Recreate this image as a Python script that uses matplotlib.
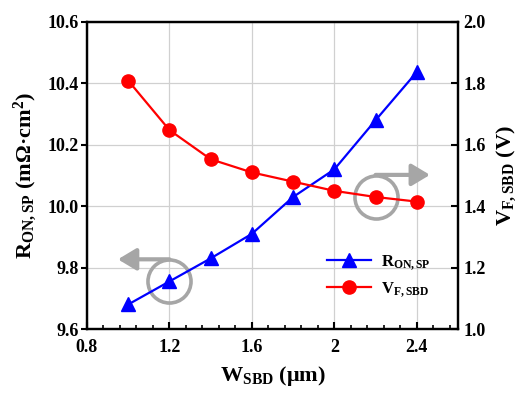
import matplotlib
matplotlib.use('Agg')
import matplotlib.pyplot as plt

plt.rcParams['font.family'] = 'Liberation Serif'
plt.rcParams['font.weight'] = 'bold'
plt.rcParams['mathtext.fontset'] = 'custom'
plt.rcParams['mathtext.rm'] = 'Liberation Serif:bold'
plt.rcParams['mathtext.bf'] = 'Liberation Serif:bold'
plt.rcParams['mathtext.it'] = 'Liberation Serif:bold'

# data
w_sbd = [1.0, 1.2, 1.4, 1.6, 1.8, 2.0, 2.2, 2.4]
r_on_sp = [9.68, 9.755, 9.83, 9.91, 10.03, 10.12, 10.28, 10.437]
v_f_sbd = [1.809, 1.648, 1.553, 1.51, 1.48, 1.45, 1.43, 1.415]

x_ticks = [0.8, 1.2, 1.6, 2.0, 2.4]
x_ticklabels = ['0.8', '1.2', '1.6', '2', '2.4']
left_ticks = [9.6, 9.8, 10.0, 10.2, 10.4, 10.6]
right_ticks = [1.0, 1.2, 1.4, 1.6, 1.8, 2.0]

fig = plt.figure(figsize=(5.19, 3.97), dpi=100)
ax = fig.add_axes([87/519, 1-329/397, (458-87)/519, (329-22)/397])
ax2 = ax.twinx()

ax.set_xlim(0.8, 2.6)
ax.set_ylim(9.6, 10.6)
ax2.set_ylim(1.0, 2.0)

ax.grid(True, color='#d0d0d0', lw=0.9)
ax.set_axisbelow(True)

l1, = ax.plot(w_sbd, r_on_sp, color='#0000ff', marker='^', ms=9.5, lw=1.6,
              label=r'$\mathbf{R_{ON,SP}}$')
l2, = ax2.plot(w_sbd, v_f_sbd, color='#ff0000', marker='o', ms=9.5, lw=1.6,
               label=r'$\mathbf{V_{F,SBD}}$')

gray = '#a6a6a6'
# circle + arrow pointing at left axis
ax.plot(w_sbd[1], r_on_sp[1], marker='o', ms=31, mfc='none', mec=gray, mew=2.6, zorder=1)
ax.annotate('', xy=(0.95, r_on_sp[1] + 0.072), xytext=(w_sbd[1], r_on_sp[1] + 0.072),
            arrowprops=dict(arrowstyle='-|>,head_length=0.55,head_width=0.33', color=gray,
                            lw=3, shrinkA=0, shrinkB=0, mutation_scale=20), zorder=1)
# circle + arrow pointing at right axis
ax2.plot(w_sbd[6], v_f_sbd[6], marker='o', ms=31, mfc='none', mec=gray, mew=2.6, zorder=1)
ax2.annotate('', xy=(2.464, v_f_sbd[6] + 0.072), xytext=(w_sbd[6], v_f_sbd[6] + 0.072),
             arrowprops=dict(arrowstyle='-|>,head_length=0.55,head_width=0.33', color=gray,
                             lw=3, shrinkA=0, shrinkB=0, mutation_scale=20), zorder=1)

ax.set_xticks(x_ticks)
ax.set_xticklabels(x_ticklabels)
ax.set_xticks([0.88, 0.96, 1.04, 1.12, 1.28, 1.36, 1.44, 1.52, 1.68, 1.76, 1.84, 1.92,
               2.08, 2.16, 2.24, 2.32, 2.48, 2.56], minor=True)
ax.set_yticks(left_ticks)
ax.set_yticklabels(['%.1f' % t for t in left_ticks])
ax2.set_yticks(right_ticks)
ax2.set_yticklabels(['%.1f' % t for t in right_ticks])

ax.tick_params(axis='x', direction='in', which='major', length=5, width=1.5, labelsize=13, pad=7, top=False)
ax.tick_params(axis='x', direction='in', which='minor', length=3, width=1.2, top=False)
ax.tick_params(axis='y', direction='out', length=4, width=1.5, labelsize=13, pad=2)
ax2.tick_params(axis='y', direction='in', length=5, width=1.5, labelsize=13, pad=4)

for a in (ax, ax2):
    for s in a.spines.values():
        s.set_linewidth(1.6)

ax.set_xlabel(r'$\mathbf{W_{SBD}}$ (μm)', fontsize=16, fontweight='bold', labelpad=6)
ax.set_ylabel(r'$\mathbf{R_{ON,SP}}$ (mΩ·cm$^\mathbf{2}$)', fontsize=16, fontweight='bold', labelpad=6)
ax2.set_ylabel(r'$\mathbf{V_{F,SBD}}$ (V)', fontsize=16, fontweight='bold', labelpad=6)

ax2.legend(handles=[l1, l2], loc='upper left', bbox_to_anchor=(0.63, 0.27), frameon=False,
           fontsize=12, handlelength=2.6, borderaxespad=0, labelspacing=0.5, handletextpad=0.6)

fig.savefig('out.png', dpi=100)
